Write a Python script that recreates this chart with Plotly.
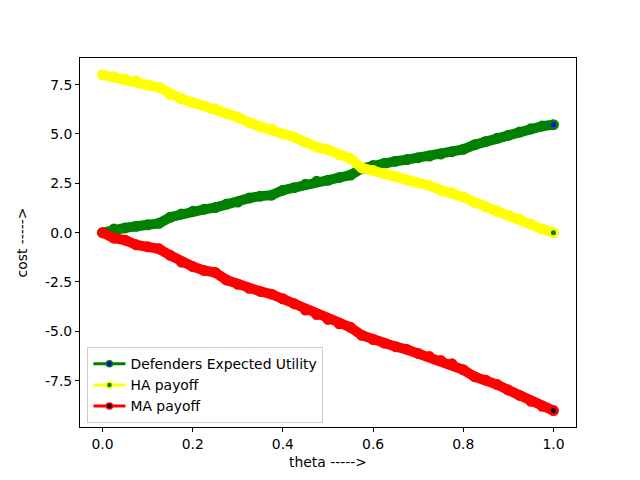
import plotly.graph_objects as go

theta = [0.000, 0.025, 0.050, 0.075, 0.100, 0.125, 0.150, 0.175, 0.200, 0.225,
         0.250, 0.275, 0.300, 0.325, 0.350, 0.375, 0.400, 0.425, 0.450, 0.475,
         0.500, 0.525, 0.550, 0.575, 0.600, 0.625, 0.650, 0.675, 0.700, 0.725,
         0.750, 0.775, 0.800, 0.825, 0.850, 0.875, 0.900, 0.925, 0.950, 0.975, 1.000]

defender_eu = [0.00, 0.18, 0.24, 0.32, 0.40, 0.47, 0.78, 0.95, 1.08, 1.18,
               1.27, 1.45, 1.55, 1.75, 1.85, 1.90, 2.15, 2.28, 2.45, 2.60,
               2.65, 2.80, 2.92, 3.25, 3.40, 3.52, 3.62, 3.70, 3.80, 3.88,
               3.98, 4.10, 4.22, 4.45, 4.62, 4.78, 4.93, 5.10, 5.26, 5.40, 5.47]

ha_payoff = [8.00, 7.90, 7.77, 7.68, 7.48, 7.36, 7.00, 6.78, 6.60, 6.42,
             6.28, 6.05, 5.85, 5.58, 5.35, 5.25, 5.00, 4.84, 4.58, 4.33,
             4.20, 3.95, 3.75, 3.28, 3.15, 3.00, 2.85, 2.66, 2.52, 2.38,
             2.15, 2.02, 1.80, 1.54, 1.30, 1.08, 0.88, 0.70, 0.42, 0.18, 0.00]

ma_payoff = [0.00, -0.28, -0.38, -0.62, -0.72, -0.82, -1.15, -1.50, -1.72, -1.92,
             -2.02, -2.40, -2.62, -2.82, -2.98, -3.12, -3.35, -3.60, -3.92, -4.15,
             -4.40, -4.62, -4.80, -5.20, -5.42, -5.60, -5.78, -5.92, -6.12, -6.28,
             -6.48, -6.65, -6.95, -7.30, -7.48, -7.70, -7.98, -8.25, -8.55, -8.80, -9.02]

series = [
    ("Defenders Expected Utility", defender_eu, "green", "blue"),
    ("HA payoff", ha_payoff, "yellow", "green"),
    ("MA payoff", ma_payoff, "red", "black"),
]

x_ticks = [0.0, 0.2, 0.4, 0.6, 0.8, 1.0]
y_ticks = [-7.5, -5.0, -2.5, 0.0, 2.5, 5.0, 7.5]

FONT = "DejaVu Sans"
FS = 13.9
fig = go.Figure()

for name, vals, edge, face in series:
    n = len(vals)
    face_colors = [edge] * (n - 1) + [face]
    fig.add_trace(go.Scatter(
        x=theta, y=vals, mode="lines+markers", name=name, showlegend=False,
        line=dict(color=edge, width=10),
        marker=dict(symbol="circle", size=8, color=face_colors,
                    line=dict(color=edge, width=3)),
        hoverinfo="skip",
    ))

for name, vals, edge, face in series:
    fig.add_trace(go.Scatter(
        x=[None], y=[None], mode="lines+markers", name=name,
        line=dict(color=edge, width=3),
        marker=dict(symbol="circle", size=6, color=face,
                    line=dict(color=edge, width=1.5)),
    ))

axis_common = dict(
    showgrid=False, zeroline=False, showline=True, linecolor="black",
    linewidth=1, mirror=True, ticks="outside", ticklen=4, tickwidth=1,
    tickcolor="black", tickfont=dict(family=FONT, size=FS, color="black"),
)

fig.update_layout(
    width=640, height=480,
    margin=dict(l=80, r=64, t=58, b=53),
    paper_bgcolor="white", plot_bgcolor="white",
    font=dict(family=FONT, size=FS, color="black"),
    xaxis=dict(range=[-0.05, 1.05], tickvals=x_ticks,
               ticktext=[f"{v:.1f}" for v in x_ticks],
               title=dict(text="theta ----->", standoff=6,
                          font=dict(family=FONT, size=FS)),
               **axis_common),
    yaxis=dict(range=[-9.85, 8.85], tickvals=y_ticks,
               ticktext=[f"{v:.1f}" for v in y_ticks],
               title=dict(text="cost ----->", standoff=14,
                          font=dict(family=FONT, size=FS)),
               **axis_common),
    legend=dict(x=0.015, y=0.01, xanchor="left", yanchor="bottom",
                bgcolor="rgba(255,255,255,0.8)", bordercolor="#cccccc",
                borderwidth=1, font=dict(family=FONT, size=FS),
                itemwidth=32, tracegroupgap=0),
    showlegend=True,
)

fig.write_html("out.html",
               config={"displayModeBar": False},
               post_script="document.body.style.margin='0';document.body.style.padding='0';")
